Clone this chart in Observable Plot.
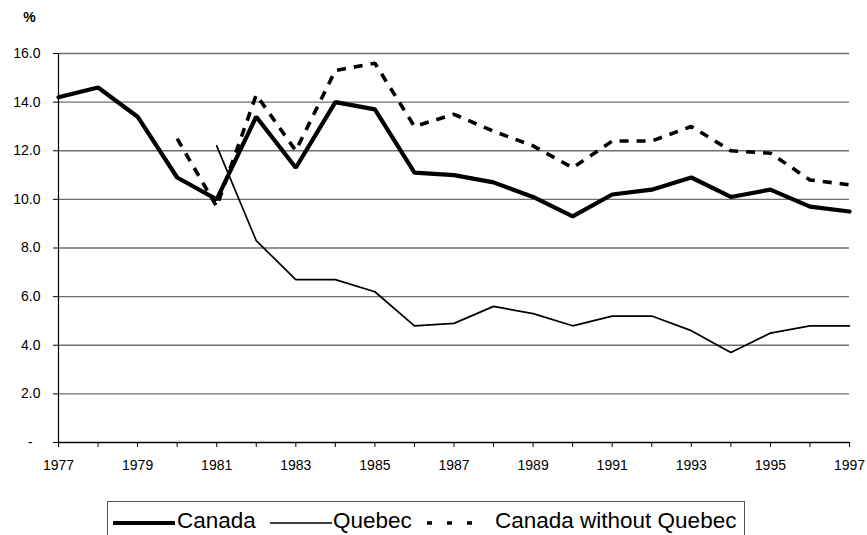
<!DOCTYPE html>
<html>
<head>
<meta charset="utf-8">
<script src="https://cdn.jsdelivr.net/npm/d3@7"></script>
<script src="https://cdn.jsdelivr.net/npm/@observablehq/plot@0.6"></script>
<style>
  html, body { margin: 0; padding: 0; background: #fff; }
  #wrap { position: relative; width: 867px; height: 535px; overflow: hidden; font-family: "Liberation Sans", Arial, sans-serif; }
  #wrap svg text { font-size: 14px; }
  #legend { position: absolute; left: 107px; top: 501px; width: 638px; height: 44px; border: 1px solid #555; box-sizing: border-box; background: #fff; }
  .item { position: absolute; top: 0; left: 0; width: 0; height: 40px; }
  .item svg { position: absolute; top: 0; }
  .item span { position: absolute; top: 6px; font-size: 22.5px; color: #000; white-space: nowrap; }
</style>
</head>
<body>
<div id="wrap"></div>
<script>
const years = [1977,1978,1979,1980,1981,1982,1983,1984,1985,1986,1987,1988,1989,1990,1991,1992,1993,1994,1995,1996,1997];
const canada = [14.2,14.6,13.4,10.9,10.0,13.4,11.3,14.0,13.7,11.1,11.0,10.7,10.1,9.3,10.2,10.4,10.9,10.1,10.4,9.7,9.5];
const quebec = [null,null,null,null,12.2,8.3,6.7,6.7,6.2,4.8,4.9,5.6,5.3,4.8,5.2,5.2,4.6,3.7,4.5,4.8,4.8];
const canadaWithoutQuebec = [null,null,null,12.5,9.7,14.3,12.0,15.3,15.6,13.0,13.5,12.8,12.2,11.3,12.4,12.4,13.0,12.0,11.9,10.8,10.6];
const yTicks = [0,2,4,6,8,10,12,14,16];
const xLabelYears = [1977,1979,1981,1983,1985,1987,1989,1991,1993,1995,1997];
const seriesNames = ["Canada", "Quebec", "Canada without Quebec"];
const yUnit = "%";

const toRows = (vals) => years.map((y, i) => ({year: y, value: vals[i]})).filter(d => d.value != null);

const chart = Plot.plot({
  width: 867,
  height: 480,
  marginLeft: 58,
  marginRight: 18,
  marginTop: 53,
  marginBottom: 38,
  style: {fontFamily: "'Liberation Sans', Arial, sans-serif", fontSize: "14px", background: "#fff", color: "#000", overflow: "visible"},
  x: {domain: [1977, 1997]},
  y: {domain: [0, 16]},
  marks: [
    Plot.ruleY(yTicks.filter(d => d > 0), {stroke: "#6e6e6e", strokeWidth: 1.4}),
    Plot.axisY({ticks: yTicks, tickSize: 5, tickPadding: 13, tickFormat: d => d === 0 ? "-\u00a0\u00a0" : d.toFixed(1), label: null, fontSize: 14, stroke: "#000"}),
    Plot.axisX({ticks: years, tickSize: 5, tickPadding: 13, tickFormat: d => xLabelYears.includes(d) ? String(d) : "", label: null, fontSize: 14}),
    Plot.ruleX([1977], {stroke: "#000", strokeWidth: 1.2}),
    Plot.ruleY([0], {stroke: "#000", strokeWidth: 1.4}),
    Plot.line(toRows(quebec), {x: "year", y: "value", stroke: "#000", strokeWidth: 1.7, strokeLinejoin: "miter"}),
    Plot.line(toRows(canadaWithoutQuebec), {x: "year", y: "value", stroke: "#000", strokeWidth: 3.6, strokeDasharray: "9,8", strokeLinecap: "butt", strokeLinejoin: "miter"}),
    Plot.line(toRows(canada), {x: "year", y: "value", stroke: "#000", strokeWidth: 4.2, strokeLinejoin: "miter"}),
    Plot.text([yUnit], {frameAnchor: "top-left", dx: -29, dy: -41, textAnchor: "middle", fontSize: 14, fontWeight: "bold", fill: "#000"})
  ]
});

const wrap = document.getElementById("wrap");
wrap.appendChild(chart);

// legend
const legend = document.createElement("div");
legend.id = "legend";
const items = [
  {name: seriesNames[0], sw: 4.2, dash: null, lineX: 5, lineW: 62, textX: 69},
  {name: seriesNames[1], sw: 1.7, dash: null, lineX: 162, lineW: 62, textX: 225},
  {name: seriesNames[2], sw: 3.6, dash: "5,15", lineX: 319, lineW: 46, textX: 387}
];
for (const it of items) {
  const d = document.createElement("div");
  d.className = "item";
  d.innerHTML = `<svg width="${it.lineW}" height="40" style="left:${it.lineX}px"><line x1="0" x2="${it.lineW}" y1="21" y2="21" stroke="#000" stroke-width="${it.sw}" ${it.dash ? `stroke-dasharray="${it.dash}"` : ""}/></svg><span style="left:${it.textX}px">${it.name}</span>`;
  legend.appendChild(d);
}
wrap.appendChild(legend);
</script>
</body>
</html>
